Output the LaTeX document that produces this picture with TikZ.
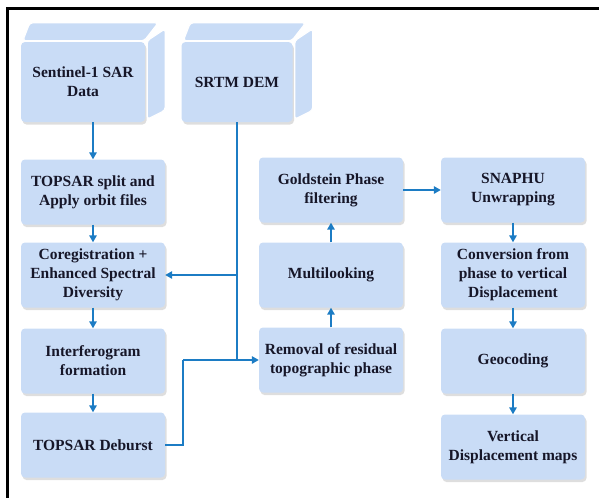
\documentclass[tikz,border=0pt]{standalone}
\usepackage{fontspec}
\setmainfont{Liberation Serif}
\usetikzlibrary{arrows.meta,shadows,calc}

\definecolor{boxfill}{RGB}{201,220,246}
\definecolor{flowblue}{RGB}{28,124,196}
\definecolor{inktext}{RGB}{22,22,40}

\tikzset{
  procbox/.style={rectangle, rounded corners=4pt, fill=boxfill,
    minimum width=144pt, minimum height=65pt, align=center, inner sep=2pt,
    font=\bfseries\fontsize{15.5}{19}\selectfont, text=inktext,
    drop shadow={shadow xshift=1.5pt, shadow yshift=-2.5pt, opacity=0.13, fill=black}},
  facebox/.style={fill=boxfill, draw=white, line width=1.2pt, rounded corners=3pt},
  flow/.style={draw=flowblue, line width=1.5pt},
  flowarr/.style={flow, -{Triangle[length=7pt,width=7.5pt]}},
}

\begin{document}
\begin{tikzpicture}[x=1pt, y=-1pt]
\useasboundingbox (0,0) rectangle (599,498);

% frame lines
\draw[line width=3pt] (599,8.5) -- (7.5,8.5) -- (7.5,498);

% data sources drawn as 3D blocks
\node[procbox, minimum width=124pt, minimum height=80pt] (sar) at (83,82) {Sentinel-1 SAR\\Data};
\node[procbox, minimum width=111pt, minimum height=80pt] (dem) at (237,82) {SRTM DEM};
\foreach \b in {sar, dem} {
  \path[facebox] ($(\b.north west)+(2,-1)$) -- ($(\b.north east)+(-1,-1)$)
     -- ($(\b.north east)+(13,-19)$) -- ($(\b.north west)+(9,-19)$) -- cycle;
  \path[facebox] ($(\b.north east)+(2,-1)$) -- ($(\b.north east)+(20,-13)$)
     -- ($(\b.south east)+(20,-12)$) -- ($(\b.south east)+(2,-3)$) -- cycle;
}

% left column
\node[procbox] (split)  at (93,192) {TOPSAR split and\\Apply orbit files};
\node[procbox] (coreg)  at (93,275) {Coregistration +\\Enhanced Spectral\\Diversity};
\node[procbox] (ifg)    at (93,361) {Interferogram\\formation};
\node[procbox] (deb)    at (93,445) {TOPSAR Deburst};

% middle column
\node[procbox] (gold)   at (331,190) {Goldstein Phase\\filtering};
\node[procbox] (multi)  at (331,275) {Multilooking};
\node[procbox] (remove) at (331,360) {Removal of residual\\topographic phase};

% right column
\node[procbox] (snaphu) at (513,190) {SNAPHU\\Unwrapping};
\node[procbox] (conv)   at (513,275) {Conversion from\\phase to vertical\\Displacement};
\node[procbox] (geo)    at (513,361) {Geocoding};
\node[procbox] (vmap)   at (513,447) {Vertical\\Displacement maps};

% connectors
\coordinate (demA) at (dem.south |- coreg.east);
\coordinate (demB) at (dem.south |- remove.west);
\coordinate (debA) at (183,360);

\draw[flowarr] (split.north |- sar.south) -- (split.north);
\draw[flowarr] (split) -- (coreg);
\draw[flowarr] (coreg) -- (ifg);
\draw[flowarr] (ifg) -- (deb);

\draw[flow] (dem.south) -- (demB);
\draw[flowarr] (demA) -- (coreg.east);
\draw[flow] (deb.east) -| (debA);
\draw[flowarr] (debA) -- (remove.west);

\draw[flowarr] (remove) -- (multi);
\draw[flowarr] (multi) -- (gold);
\draw[flowarr] (gold) -- (snaphu);

\draw[flowarr] (snaphu) -- (conv);
\draw[flowarr] (conv) -- (geo);
\draw[flowarr] (geo) -- (vmap);
\end{tikzpicture}
\end{document}
